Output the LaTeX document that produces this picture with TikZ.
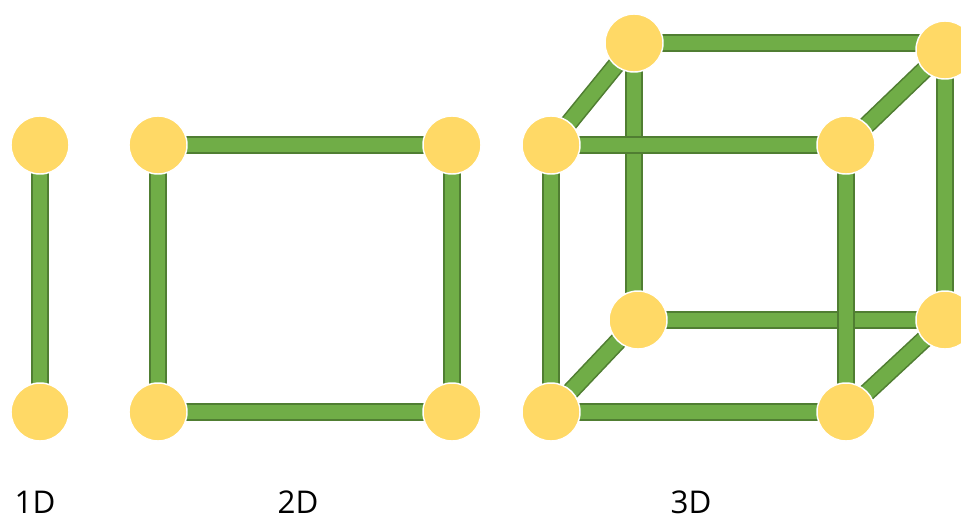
\documentclass[tikz,border=0pt]{standalone}
\usepackage{fontspec}
\setmainfont{Open Sans}
\definecolor{barfill}{HTML}{70AD47}
\definecolor{baredge}{HTML}{507E32}
\definecolor{ballfill}{HTML}{FFD966}
\begin{document}
\begin{tikzpicture}[x=0.75pt,y=-0.75pt,
  bar/.style={draw=baredge,line width=1.2pt,double=barfill,double distance=11.2pt},
  ball/.style={circle,fill=ballfill,draw=white,line width=1.1pt,minimum size=43.5pt,inner sep=0pt},
  dimlabel/.style={anchor=base,inner sep=0pt,font=\fontsize{23.5}{27}\selectfont,text=black}]
\clip (0,0) rectangle (961,518);
\useasboundingbox (0,0) rectangle (961,518);
% 1D
\coordinate (a1) at (40,145);
\coordinate (a2) at (40,412);
% 2D
\coordinate (s1) at (158,145);
\coordinate (s2) at (452,145);
\coordinate (s3) at (158,412);
\coordinate (s4) at (452,412);
% 3D front face
\coordinate (ftl) at (551,145);
\coordinate (ftr) at (846,145);
\coordinate (fbl) at (551,412);
\coordinate (fbr) at (846,412);
% 3D back face
\coordinate (btl) at (634,43);
\coordinate (btr) at (945,50);
\coordinate (bbl) at (638,320);
\coordinate (bbr) at (945,320);

% rods
\draw[bar] (a1) -- (a2);
\draw[bar] (s1) -- (s2);
\draw[bar] (s2) -- (s4);
\draw[bar] (s4) -- (s3);
\draw[bar] (s3) -- (s1);
% back face first, then depth rods, then front face on top
\draw[bar] (btl) -- (btl -| btr);
\draw[bar] (btr) -- (bbr);
\draw[bar] (bbr) -- (bbl);
\draw[bar] (btl) -- (btl |- bbl);
\draw[bar] (ftl) -- (btl);
\draw[bar] (ftr) -- (btr);
\draw[bar] (fbl) -- (bbl);
\draw[bar] (fbr) -- (bbr);
\draw[bar] (ftl) -- (ftr);
\draw[bar] (ftr) -- (fbr);
\draw[bar] (fbr) -- (fbl);
\draw[bar] (fbl) -- (ftl);

% joints
\foreach \p in {a1,a2,s1,s2,s3,s4,ftl,ftr,fbl,fbr,btl,btr,bbl,bbr}
  \node[ball] (n\p) at (\p) {};

% labels
\node[dimlabel] (l1) at (35,513) {1D};
\node[dimlabel] (l2) at (298,513) {2D};
\node[dimlabel] (l3) at (691,513) {3D};
\end{tikzpicture}
\end{document}
